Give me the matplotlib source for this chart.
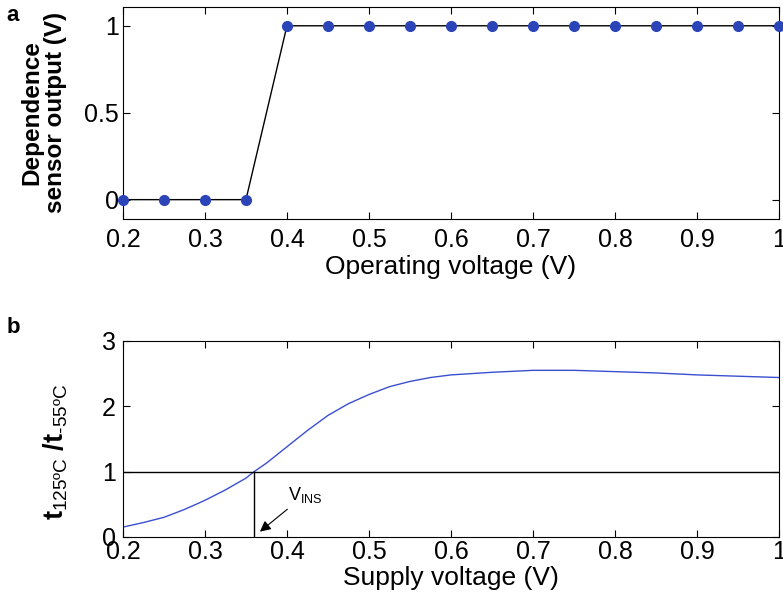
import numpy as np
import matplotlib.pyplot as plt

plt.rcParams['font.family'] = ['Liberation Sans', 'DejaVu Sans']
plt.rcParams['mathtext.fontset'] = 'custom'
plt.rcParams['mathtext.rm'] = 'Liberation Sans'
plt.rcParams['mathtext.bf'] = 'Liberation Sans:bold'
plt.rcParams['mathtext.it'] = 'Liberation Sans'

# panel a: sensor output vs operating voltage
v_op = [0.2, 0.25, 0.3, 0.35, 0.4, 0.45, 0.5, 0.55, 0.6, 0.65, 0.7, 0.75, 0.8, 0.85, 0.9, 0.95, 1.0]
sensor_out = [0, 0, 0, 0, 1, 1, 1, 1, 1, 1, 1, 1, 1, 1, 1, 1, 1]

# panel b: delay ratio vs supply voltage
v_sup = [0.2, 0.225, 0.25, 0.275, 0.3, 0.325, 0.35, 0.36, 0.375, 0.4, 0.425, 0.45, 0.475,
         0.5, 0.525, 0.55, 0.575, 0.6, 0.65, 0.7, 0.75, 0.8, 0.85, 0.9, 0.95, 1.0]
ratio = [0.15, 0.22, 0.30, 0.42, 0.56, 0.72, 0.90, 1.0, 1.13, 1.38, 1.63, 1.86, 2.04,
         2.18, 2.30, 2.38, 2.44, 2.48, 2.52, 2.55, 2.55, 2.53, 2.51, 2.48, 2.46, 2.44]
v_ins = 0.36

fs = 18
xticks = np.arange(0.2, 1.01, 0.1)
xticklabels = ['0.2', '0.3', '0.4', '0.5', '0.6', '0.7', '0.8', '0.9', '1']

fig = plt.figure(figsize=(7.83, 6.06), dpi=100)

ax1 = fig.add_axes([0.157, 0.639, 0.838, 0.35])
ax1.plot(v_op, sensor_out, color='black', lw=1.0, marker='o', ms=7,
         mfc='#2b44b8', mec='#2b44b8', clip_on=False, zorder=3)
ax1.set_xlim(0.2, 1.0)
ax1.set_ylim(-0.11, 1.11)
ax1.set_xticks(xticks)
ax1.set_xticklabels(xticklabels)
ax1.set_yticks([0, 0.5, 1])
ax1.set_yticklabels(['0', '0.5', '1'])
ax1.tick_params(direction='in', labelsize=fs, top=True, right=True, length=5)
ax1.tick_params(axis='x', pad=7)
ax1.tick_params(axis='y', pad=3)
ax1.set_xlabel('Operating voltage (V)', fontsize=19, labelpad=2)
ax1.set_ylabel('Dependence\nsensor output (V)', fontsize=17.5, fontweight='bold', linespacing=1.05)
ax1.yaxis.set_label_coords(-0.085, 0.5)
fig.text(0.008, 0.965, 'a', fontsize=16, fontweight='bold')

ax2 = fig.add_axes([0.157, 0.114, 0.838, 0.3234])
ax2.plot(v_sup, ratio, color='#3a4fd0', lw=1.0)
ax2.axhline(1, color='black', lw=1.0)
ax2.plot([v_ins, v_ins], [0, 1], color='black', lw=1.0)
ax2.set_xlim(0.2, 1.0)
ax2.set_ylim(0, 3)
ax2.set_xticks(xticks)
ax2.set_xticklabels(xticklabels)
ax2.set_yticks([0, 1, 2, 3])
ax2.tick_params(direction='in', labelsize=fs, top=True, right=True, length=5)
ax2.tick_params(axis='x', pad=2)
ax2.tick_params(axis='y', pad=5)
ax2.set_xlabel('Supply voltage (V)', fontsize=19, labelpad=2)
ax2.set_ylabel(r'$\mathbf{t}_{\mathrm{125ºC}}\ \mathbf{/t}_{\text{-55ºC}}$', fontsize=19.5)
ax2.yaxis.set_label_coords(-0.08, 0.434)
ax2.annotate(r'V$_{\mathrm{INS}}$', xy=(0.367, 0.08), xytext=(0.401, 0.57),
             fontsize=13,
             arrowprops=dict(arrowstyle='-|>', color='black', lw=0.8, mutation_scale=16,
                             shrinkA=2, shrinkB=0))
fig.text(0.008, 0.45, 'b', fontsize=16, fontweight='bold')

fig.savefig('out.png', dpi=100)
